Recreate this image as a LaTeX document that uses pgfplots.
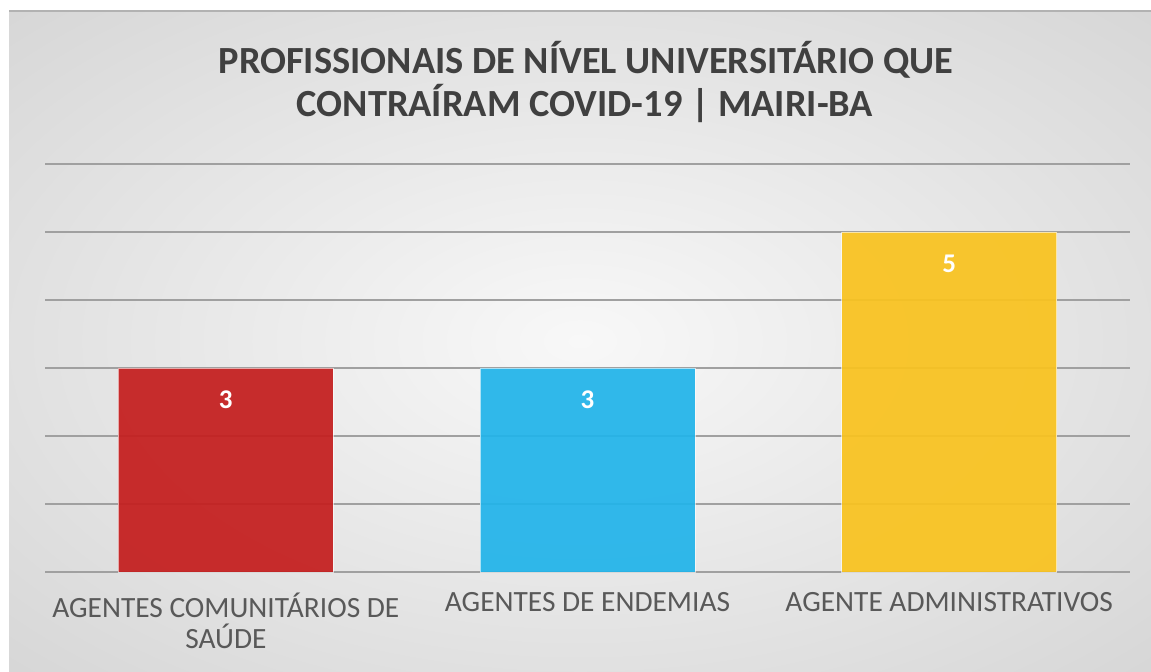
\documentclass[border=0pt]{standalone}
\usepackage{pgfplots}
\pgfplotsset{compat=1.18}
\usepackage{fontspec}
\setmainfont{Carlito}
\definecolor{bgin}{HTML}{F8F8F8}
\definecolor{bgout}{HTML}{C9C9C9}
\definecolor{barred}{HTML}{C41E1E}
\definecolor{barblue}{HTML}{22B4EA}
\definecolor{baryel}{HTML}{F9C31F}
\definecolor{titlecol}{HTML}{404040}
\definecolor{labcol}{HTML}{595959}
\definecolor{gridcol}{HTML}{A0A0A0}
\definecolor{axcol}{HTML}{404040}
\pgfdeclareradialshading{bgshade}{\pgfpoint{0bp}{0bp}}{color(0bp)=(bgin); color(50bp)=(bgout)}
\begin{document}
\begin{tikzpicture}
\fill[white] (0pt,0pt) rectangle (575.5pt,335.5pt);
\useasboundingbox (0pt,0pt) rectangle (575.5pt,335.5pt);
\shade[shading=bgshade] (4.5pt,0pt) rectangle (575.5pt,330pt);
\draw[gray!60, line width=0.6pt] (4.5pt,330pt) -- (575.5pt,330pt);
\node[font=\fontsize{19.2}{22}\selectfont\bfseries, text=titlecol] at (293pt,305.5pt) {PROFISSIONAIS DE NÍVEL UNIVERSITÁRIO QUE};
\node[font=\fontsize{19.2}{22}\selectfont\bfseries, text=titlecol] at (292.5pt,284pt) {CONTRAÍRAM COVID-19 | MAIRI-BA};
\begin{axis}[
  at={(22.5pt,49.5pt)}, anchor=south west,
  scale only axis, width=542.5pt, height=204pt,
  xmin=-0.5, xmax=2.5, ymin=0, ymax=6,
  ybar, bar width=107.5pt, bar shift=0pt,
  axis line style={draw=none},
  tick style={draw=none},
  ytick={1,2,3,4,5,6}, yticklabels={},
  ymajorgrids, major grid style={color=gridcol, line width=1pt},
  extra y ticks={0}, extra y tick labels={},
  extra y tick style={grid style={color=axcol, line width=1.6pt}},
  xtick={0,1,2},
  xticklabels={{AGENTES COMUNITÁRIOS DE\\SAÚDE},{AGENTES DE ENDEMIAS},{AGENTE ADMINISTRATIVOS}},
  xticklabel style={align=center, text=labcol, font=\fontsize{14.7}{15.8}\selectfont, anchor=north, yshift=-2.5pt},
  /pgf/number format/assume math mode=true,
  nodes near coords,
  every node near coord/.append style={text=white, font=\fontsize{13.5}{15}\selectfont\bfseries, anchor=center, yshift=-16pt},
  clip=false,
]
\addplot[fill=barred, draw=white, draw opacity=0.6, line width=0.5pt, fill opacity=0.93, text opacity=1] coordinates {(0,3)};
\addplot[fill=barblue, draw=white, draw opacity=0.6, line width=0.5pt, fill opacity=0.93, text opacity=1] coordinates {(1,3)};
\addplot[fill=baryel, draw=white, draw opacity=0.6, line width=0.5pt, fill opacity=0.93, text opacity=1] coordinates {(2,5)};
\end{axis}
\end{tikzpicture}
\end{document}
